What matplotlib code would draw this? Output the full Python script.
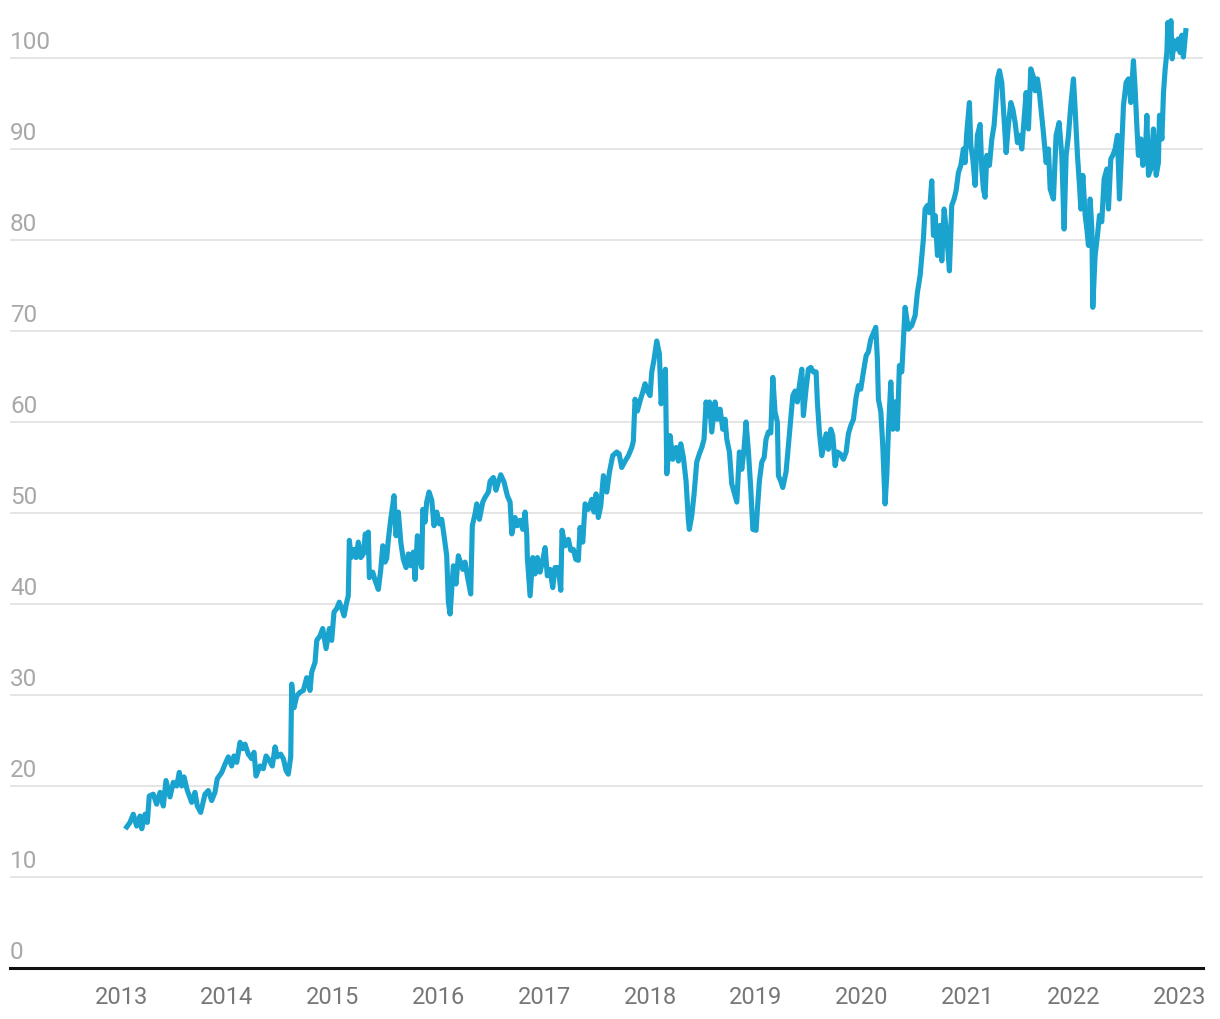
import matplotlib
matplotlib.use("Agg")
import matplotlib.pyplot as plt
import matplotlib.transforms as mtransforms

plt.rcParams['font.family'] = ['Roboto', 'DejaVu Sans']

# decimal years and values
years = [
    2013.054, 2013.085, 2013.116, 2013.148, 2013.180, 2013.196, 2013.227, 2013.249, 2013.267, 2013.305,
    2013.337, 2013.369, 2013.400, 2013.425, 2013.463, 2013.494, 2013.526, 2013.551, 2013.574, 2013.595,
    2013.627, 2013.668, 2013.699, 2013.721, 2013.753, 2013.794, 2013.825, 2013.857, 2013.888, 2013.910,
    2013.952, 2013.983, 2014.014, 2014.046, 2014.068, 2014.094, 2014.125, 2014.150, 2014.172, 2014.203,
    2014.235, 2014.257, 2014.276, 2014.314, 2014.345, 2014.371, 2014.402, 2014.430, 2014.456, 2014.477,
    2014.509, 2014.534, 2014.560, 2014.581, 2014.604, 2014.613, 2014.635, 2014.661, 2014.692, 2014.723,
    2014.755, 2014.786, 2014.802, 2014.834, 2014.850, 2014.881, 2014.906, 2014.938, 2014.969, 2014.991,
    2015.013, 2015.039, 2015.063, 2015.086, 2015.108, 2015.133, 2015.148, 2015.158, 2015.174, 2015.202,
    2015.221, 2015.243, 2015.266, 2015.290, 2015.309, 2015.328, 2015.337, 2015.347, 2015.379, 2015.401,
    2015.432, 2015.455, 2015.474, 2015.495, 2015.511, 2015.526, 2015.549, 2015.580, 2015.599, 2015.621,
    2015.644, 2015.668, 2015.694, 2015.716, 2015.738, 2015.763, 2015.779, 2015.801, 2015.819, 2015.842,
    2015.852, 2015.873, 2015.889, 2015.911, 2015.937, 2015.958, 2015.984, 2016.009, 2016.031, 2016.053,
    2016.078, 2016.094, 2016.110, 2016.141, 2016.166, 2016.188, 2016.230, 2016.251, 2016.273, 2016.305,
    2016.320, 2016.346, 2016.362, 2016.387, 2016.419, 2016.440, 2016.472, 2016.488, 2016.519, 2016.544,
    2016.566, 2016.589, 2016.620, 2016.651, 2016.677, 2016.693, 2016.724, 2016.746, 2016.771, 2016.797,
    2016.819, 2016.835, 2016.840, 2016.866, 2016.891, 2016.913, 2016.935, 2016.960, 2016.986, 2017.008,
    2017.029, 2017.055, 2017.080, 2017.102, 2017.133, 2017.156, 2017.168, 2017.197, 2017.228, 2017.250,
    2017.275, 2017.298, 2017.322, 2017.338, 2017.364, 2017.386, 2017.417, 2017.449, 2017.471, 2017.490,
    2017.511, 2017.534, 2017.559, 2017.591, 2017.616, 2017.647, 2017.685, 2017.707, 2017.732, 2017.764,
    2017.795, 2017.827, 2017.842, 2017.858, 2017.880, 2017.905, 2017.931, 2017.953, 2017.974, 2018.000,
    2018.016, 2018.038, 2018.063, 2018.088, 2018.104, 2018.126, 2018.145, 2018.158, 2018.189, 2018.214,
    2018.246, 2018.268, 2018.290, 2018.315, 2018.340, 2018.362, 2018.371, 2018.394, 2018.416, 2018.441,
    2018.466, 2018.489, 2018.510, 2018.529, 2018.551, 2018.561, 2018.583, 2018.614, 2018.636, 2018.662,
    2018.687, 2018.709, 2018.725, 2018.750, 2018.772, 2018.794, 2018.820, 2018.844, 2018.867, 2018.888,
    2018.907, 2018.929, 2018.952, 2018.971, 2019.002, 2019.014, 2019.033, 2019.056, 2019.078, 2019.096,
    2019.118, 2019.141, 2019.160, 2019.181, 2019.203, 2019.213, 2019.235, 2019.254, 2019.285, 2019.307,
    2019.330, 2019.349, 2019.371, 2019.392, 2019.411, 2019.434, 2019.449, 2019.474, 2019.496, 2019.519,
    2019.543, 2019.569, 2019.581, 2019.600, 2019.623, 2019.645, 2019.664, 2019.685, 2019.708, 2019.727,
    2019.749, 2019.770, 2019.796, 2019.827, 2019.853, 2019.874, 2019.897, 2019.922, 2019.947, 2019.969,
    2019.991, 2020.016, 2020.042, 2020.063, 2020.086, 2020.111, 2020.133, 2020.148, 2020.158, 2020.181,
    2020.199, 2020.221, 2020.237, 2020.252, 2020.275, 2020.294, 2020.316, 2020.337, 2020.356, 2020.379,
    2020.410, 2020.441, 2020.473, 2020.505, 2020.526, 2020.552, 2020.568, 2020.583, 2020.599, 2020.621,
    2020.640, 2020.662, 2020.678, 2020.694, 2020.716, 2020.741, 2020.757, 2020.779, 2020.804, 2020.829,
    2020.851, 2020.873, 2020.892, 2020.914, 2020.937, 2020.961, 2020.977, 2020.993, 2021.018, 2021.031,
    2021.050, 2021.072, 2021.093, 2021.119, 2021.135, 2021.150, 2021.166, 2021.182, 2021.207, 2021.230,
    2021.251, 2021.270, 2021.283, 2021.302, 2021.324, 2021.339, 2021.355, 2021.365, 2021.386, 2021.409,
    2021.428, 2021.450, 2021.472, 2021.491, 2021.513, 2021.535, 2021.554, 2021.576, 2021.598, 2021.623,
    2021.639, 2021.661, 2021.679, 2021.717, 2021.743, 2021.765, 2021.781, 2021.812, 2021.837, 2021.866,
    2021.891, 2021.913, 2021.932, 2021.954, 2021.976, 2022.001, 2022.017, 2022.039, 2022.058, 2022.071,
    2022.090, 2022.112, 2022.128, 2022.143, 2022.159, 2022.175, 2022.184, 2022.206, 2022.228, 2022.247,
    2022.269, 2022.291, 2022.317, 2022.332, 2022.354, 2022.373, 2022.395, 2022.417, 2022.436, 2022.459,
    2022.474, 2022.499, 2022.521, 2022.543, 2022.568, 2022.584, 2022.600, 2022.615, 2022.638, 2022.657,
    2022.679, 2022.695, 2022.710, 2022.732, 2022.757, 2022.783, 2022.804, 2022.814, 2022.837, 2022.852,
    2022.868, 2022.884, 2022.893, 2022.908, 2022.922, 2022.934, 2022.953, 2022.972, 2022.993, 2023.009,
    2023.025, 2023.040, 2023.063,
]
values = [
    15.5, 16.0, 16.9, 15.6, 16.7, 15.3, 16.9, 16.0, 18.9, 19.1,
    18.0, 19.3, 17.8, 20.6, 18.8, 20.4, 20.0, 21.5, 20.0, 21.0,
    19.5, 18.2, 19.3, 17.8, 17.1, 19.1, 19.5, 18.4, 19.3, 20.8,
    21.5, 22.4, 23.2, 22.2, 23.3, 22.6, 24.8, 24.1, 24.6, 23.5,
    23.0, 23.7, 21.1, 22.2, 21.9, 23.3, 22.8, 22.2, 24.3, 23.2,
    23.5, 23.0, 21.7, 21.3, 23.2, 31.2, 28.6, 29.9, 30.3, 30.5,
    31.9, 30.5, 32.5, 33.6, 36.0, 36.5, 37.3, 35.1, 37.3, 36.0,
    39.1, 39.5, 40.2, 39.5, 38.7, 40.2, 40.9, 47.0, 45.1, 46.0,
    45.1, 46.8, 45.1, 45.5, 47.7, 45.7, 47.9, 42.9, 43.5, 42.6,
    41.6, 43.8, 46.4, 44.6, 45.0, 47.0, 49.3, 51.9, 47.5, 50.1,
    46.8, 44.9, 44.0, 45.5, 44.2, 45.7, 42.7, 47.5, 45.3, 44.0,
    50.4, 49.0, 51.2, 52.3, 51.4, 48.6, 50.1, 48.8, 49.3, 47.5,
    45.3, 40.2, 38.9, 44.2, 42.2, 45.3, 43.8, 44.6, 43.1, 41.1,
    48.6, 49.9, 51.0, 49.3, 51.2, 51.7, 52.3, 53.5, 53.9, 52.5,
    53.4, 54.2, 53.4, 51.9, 51.2, 47.7, 49.5, 48.6, 49.2, 48.2,
    50.1, 47.5, 45.1, 40.9, 45.1, 43.3, 45.1, 43.5, 44.8, 46.2,
    43.1, 43.8, 41.8, 44.0, 44.0, 41.5, 48.1, 46.4, 47.1, 45.9,
    46.0, 44.9, 44.8, 48.4, 46.8, 51.0, 50.4, 51.5, 50.1, 52.1,
    49.5, 50.8, 54.1, 52.3, 54.5, 56.3, 56.7, 56.5, 55.0, 55.7,
    56.3, 57.2, 57.9, 62.5, 61.2, 62.3, 63.3, 64.2, 63.4, 62.9,
    65.5, 66.9, 68.9, 67.5, 62.0, 63.8, 65.8, 54.3, 58.5, 55.9,
    57.2, 55.7, 57.6, 56.1, 53.5, 49.2, 48.2, 49.7, 52.1, 55.6,
    56.5, 57.2, 58.1, 62.2, 60.7, 62.2, 58.9, 62.2, 60.3, 61.4,
    59.2, 60.3, 58.1, 56.7, 53.2, 52.3, 51.2, 56.7, 54.8, 57.0,
    60.0, 56.8, 52.6, 48.2, 48.1, 50.4, 53.5, 55.6, 56.1, 58.1,
    58.9, 58.8, 64.9, 61.1, 60.0, 54.1, 53.5, 52.8, 54.5, 57.4,
    60.3, 62.9, 63.4, 62.2, 64.0, 65.8, 60.7, 63.6, 65.8, 66.0,
    65.5, 65.5, 62.2, 58.9, 56.3, 57.6, 58.7, 57.0, 59.2, 58.5,
    55.2, 56.7, 56.5, 55.9, 56.7, 58.7, 59.6, 60.3, 62.7, 64.0,
    63.6, 65.5, 67.3, 67.7, 69.1, 69.8, 70.4, 66.9, 62.5, 61.1,
    57.4, 51.0, 54.1, 58.9, 64.4, 59.2, 62.2, 59.2, 66.2, 65.5,
    72.6, 70.2, 70.6, 71.7, 74.2, 76.1, 78.1, 80.1, 83.4, 83.8,
    83.0, 86.5, 80.5, 82.7, 78.3, 81.6, 77.7, 83.4, 80.5, 76.6,
    83.8, 84.5, 85.4, 87.4, 88.2, 90.0, 88.5, 91.8, 95.1, 90.4,
    88.9, 86.0, 91.5, 92.7, 87.8, 85.6, 84.7, 89.3, 88.2, 91.1,
    92.6, 95.5, 97.7, 98.6, 97.3, 94.4, 91.5, 89.6, 92.6, 95.1,
    94.4, 92.9, 90.7, 91.5, 90.0, 93.3, 96.2, 92.2, 98.8, 97.9,
    96.4, 97.7, 96.2, 91.8, 88.5, 90.0, 85.6, 84.5, 91.5, 92.9,
    89.3, 81.2, 89.3, 91.5, 94.8, 97.7, 94.4, 89.3, 86.0, 83.4,
    87.1, 82.7, 81.2, 79.4, 84.5, 81.2, 72.6, 78.3, 80.5, 82.7,
    82.0, 86.7, 87.8, 83.4, 88.9, 89.3, 90.0, 91.5, 84.5, 90.7,
    94.8, 97.3, 97.7, 95.1, 99.7, 96.6, 92.6, 89.3, 91.1, 88.2,
    88.9, 93.7, 87.1, 87.8, 92.2, 87.1, 88.5, 93.7, 91.1, 96.2,
    98.8, 100.6, 103.9, 101.0, 104.1, 99.9, 101.9, 101.0, 102.1, 100.6,
    102.5, 100.1, 103.0,
]

year_ticks = list(range(2013, 2024))
y_ticks = list(range(0, 101, 10))

fig = plt.figure(figsize=(12.2, 10.2), dpi=100)
ax = fig.add_axes([0.0082, 0.05, 0.978, 0.9368])

ax.plot(years, values, color='#1aa3ce', lw=3.7, solid_joinstyle='round', zorder=3)

ax.set_xlim(2011.951, 2023.227)
ax.set_ylim(0, 105)

for s in ['top', 'right', 'left']:
    ax.spines[s].set_visible(False)
ax.spines['bottom'].set_color('#111111')
ax.spines['bottom'].set_linewidth(2.2)
ax.spines['bottom'].set_zorder(4)

ax.set_yticks(y_ticks[1:])
ax.yaxis.grid(True, color='#e5e5e5', lw=1.4)
ax.set_axisbelow(True)
ax.tick_params(axis='y', left=False, labelleft=False)

trans = mtransforms.blended_transform_factory(ax.transAxes, ax.transData)
for v in y_ticks:
    ax.annotate(str(v), xy=(0, v), xycoords=trans, xytext=(0, 7), textcoords='offset points',
                ha='left', va='baseline', fontsize=17.5, color='#a8a8a8')

ax.set_xticks(year_ticks)
ax.set_xticklabels([str(y) for y in year_ticks])
ax.tick_params(axis='x', length=0, pad=12, labelsize=17, labelcolor='#777777')

fig.savefig('out.png', dpi=100)
